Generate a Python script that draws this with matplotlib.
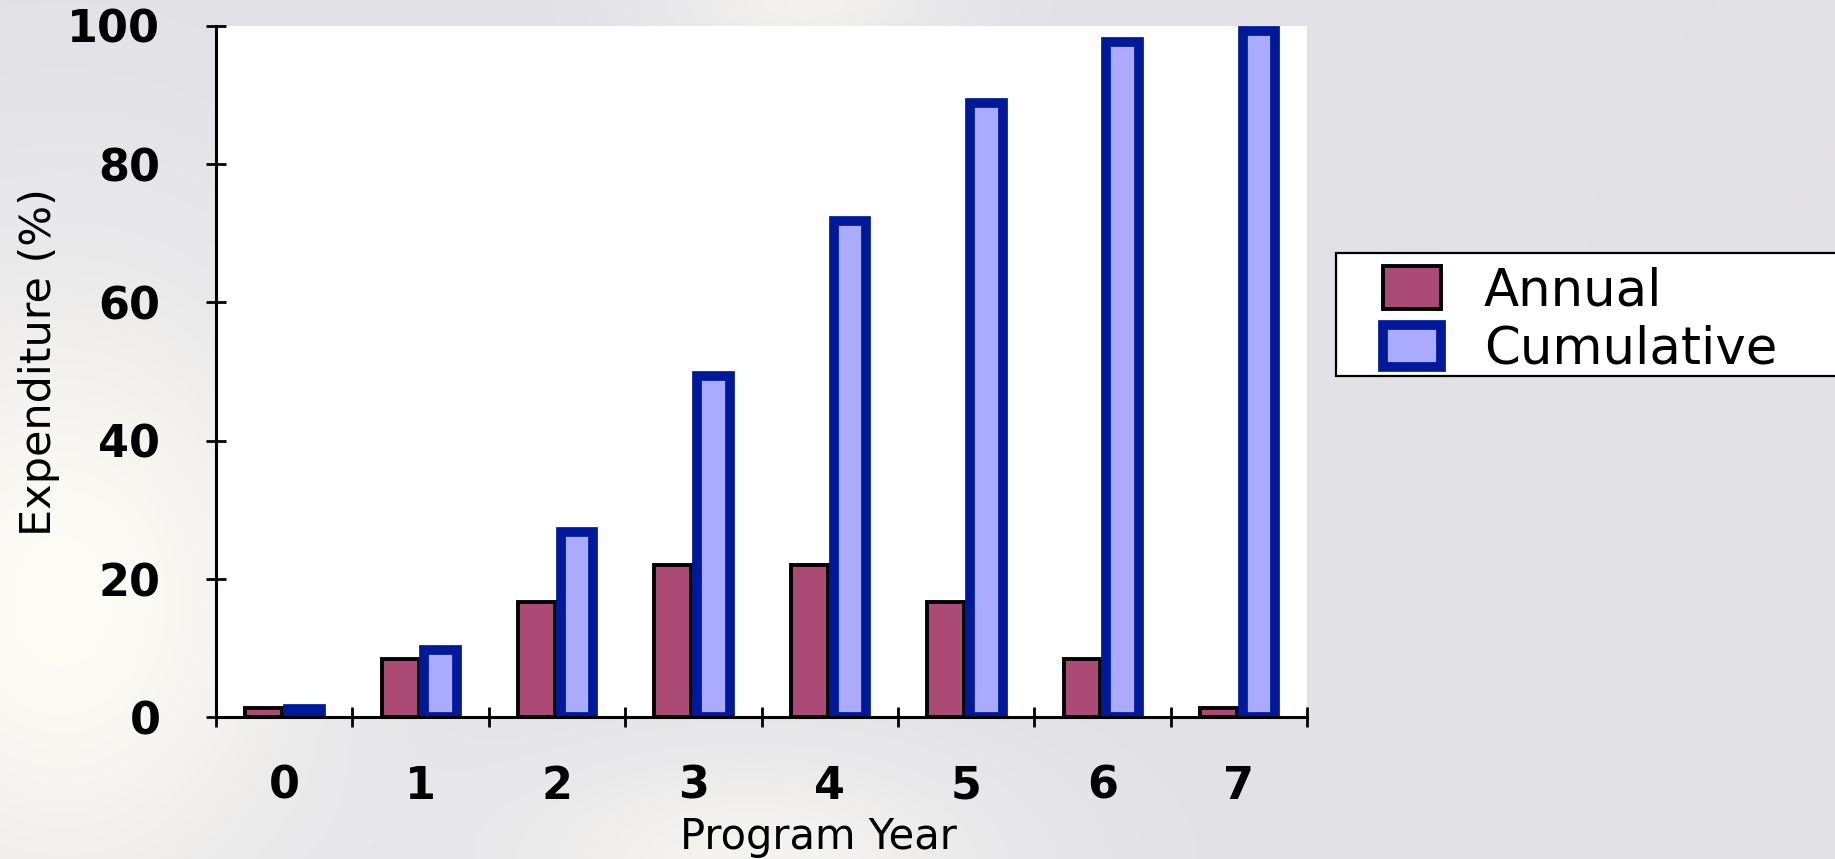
import numpy as np
import matplotlib.pyplot as plt
from matplotlib.patches import Rectangle

# Data
years = [0, 1, 2, 3, 4, 5, 6, 7]
annual = [1.4, 8.4, 16.7, 22.1, 22.1, 16.7, 8.4, 1.4]
cumulative = [1.2, 9.7, 26.8, 49.3, 71.8, 88.9, 97.7, 99.2]
yticks = [0, 20, 40, 60, 80, 100]

annual_fill = '#AA4A75'
cum_fill = '#AAAAFF'
cum_edge = '#00189A'


def background(h=215, w=460):
    # soft blurred backdrop: grey base with a warm light patch on the left
    yy, xx = np.mgrid[0:h, 0:w]
    xx = xx / w * 1835
    yy = yy / h * 859
    base = np.array([226, 225, 230], float)
    cream = np.array([253, 252, 245], float)
    warm = np.exp(-(((xx - 60) / 260) ** 2 + ((yy - 600) / 330) ** 2))
    warm2 = np.exp(-(((xx - 750) / 260) ** 2 + ((yy - 860) / 120) ** 2))
    warm3 = np.exp(-(((xx - 800) / 150) ** 2 + ((yy - 0) / 60) ** 2))
    wgt = np.clip(warm + 0.7 * warm2 + 0.6 * warm3, 0, 1)[..., None]
    img = base * (1 - wgt) + cream * wgt
    return img / 255


def main():
    fig = plt.figure(figsize=(18.35, 8.59), dpi=100)
    bg = fig.add_axes([0, 0, 1, 1], zorder=-5)
    bg.imshow(background(), aspect='auto', interpolation='bilinear')
    bg.axis('off')

    ax = fig.add_axes([0.1177, 0.1648, 0.5946, 0.8052])
    ax.set_facecolor('white')
    x = np.array(years, float)

    ax.bar(x - 0.15, annual, width=0.27, color=annual_fill,
           edgecolor='black', linewidth=2.8, label='Annual', zorder=2)
    ax.bar(x + 0.148, cumulative, width=0.24, color=cum_fill,
           edgecolor=cum_edge, linewidth=7, label='Cumulative', zorder=3)

    ax.set_xlim(-0.5, 7.5)
    ax.set_ylim(0, 100)

    for s in ['top', 'right']:
        ax.spines[s].set_visible(False)
    for s in ['left', 'bottom']:
        ax.spines[s].set_linewidth(2.2)
        ax.spines[s].set_zorder(5)

    ax.set_xticks(x)
    ax.set_xticklabels([str(y) for y in years])
    ax.set_xticks(np.arange(-0.5, 8.0, 1.0), minor=True)
    ax.tick_params(axis='x', which='major', length=0, pad=34,
                   labelsize=32)
    ax.tick_params(axis='x', which='minor', direction='inout', length=14,
                   width=2)
    ax.set_yticks(yticks)
    ax.tick_params(axis='y', direction='inout', length=14, width=2,
                   pad=33, labelsize=32)
    for lab in ax.get_xticklabels() + ax.get_yticklabels():
        lab.set_fontweight('bold')

    ax.set_xlabel('Program Year', fontsize=30, va='center', ha='center')
    ax.set_ylabel('Expenditure (%)', fontsize=31, va='center', ha='center')
    ax.xaxis.set_label_coords(0.552, -0.173)
    ax.yaxis.set_label_coords(-0.162, 0.514)

    # legend frame runs off the right edge, as in the reference
    fig.patches.append(Rectangle((1336 / 1835, 1 - 376 / 859),
                                 0.3, 123 / 859, transform=fig.transFigure,
                                 facecolor='white', edgecolor='black',
                                 linewidth=1.6, zorder=1))
    fig.legend(loc='upper left',
               bbox_to_anchor=(1383 / 1835, 1 - 266 / 859),
               bbox_transform=fig.transFigure,
               fontsize=37, frameon=False,
               handlelength=1.12, handleheight=0.9, handletextpad=0.84,
               labelspacing=0.17, borderpad=0, borderaxespad=0)

    fig.savefig('out.png', dpi=100)


main()
